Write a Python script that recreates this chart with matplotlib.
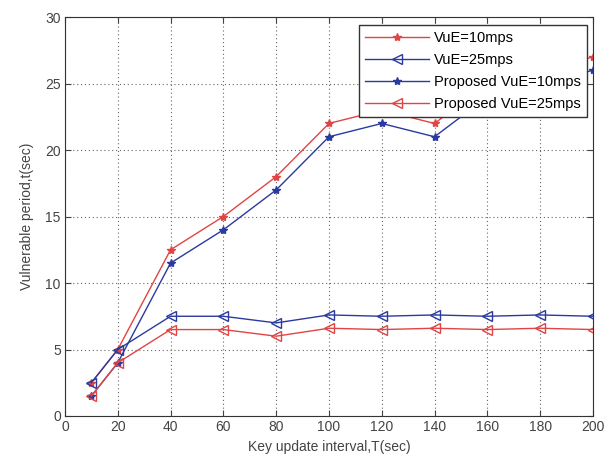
import matplotlib
matplotlib.use("Agg")
import matplotlib.pyplot as plt

plt.rcParams['font.family'] = ['Liberation Sans', 'DejaVu Sans']

x = [10, 20, 40, 60, 80, 100, 120, 140, 160, 180, 200]
vue10 = [2.5, 5, 12.5, 15, 18, 22, 23, 22, 25, 26, 27]
vue25 = [2.5, 5, 7.5, 7.5, 7, 7.6, 7.5, 7.6, 7.5, 7.6, 7.5]
prop10 = [1.5, 4, 11.5, 14, 17, 21, 22, 21, 24, 25, 26]
prop25 = [1.5, 4, 6.5, 6.5, 6, 6.6, 6.5, 6.6, 6.5, 6.6, 6.5]

labels = ['VuE=10mps', 'VuE=25mps', 'Proposed VuE=10mps', 'Proposed VuE=25mps']
red = '#e04545'
blue = '#2a3a9e'

fig = plt.figure(figsize=(6.16, 4.62), dpi=100)
ax = fig.add_axes([0.1055, 0.0996, 0.857, 0.8634])

ax.plot(x, vue10, color=red, marker='*', markersize=6, lw=1, label=labels[0])
ax.plot(x, vue25, color=blue, marker='<', markersize=6.5, mfc='none', lw=1, label=labels[1])
ax.plot(x, prop10, color=blue, marker='*', markersize=6, lw=1, label=labels[2])
ax.plot(x, prop25, color=red, marker='<', markersize=6.5, mfc='none', lw=1, label=labels[3])

ax.set_xlim(0, 200)
ax.set_ylim(0, 30)
ax.set_xticks(range(0, 201, 20))
ax.set_yticks(range(0, 31, 5))
ax.tick_params(direction='in', labelsize=10, length=4, top=True, right=True,
               colors='#444444', pad=3)
ax.grid(True, linestyle=(0, (1, 2.5)), color='#666666', linewidth=0.8)
for s in ax.spines.values():
    s.set_color('#333333')

ax.set_xlabel('Key update interval,T(sec)', fontsize=10, color='#444444', labelpad=4)
ax.set_ylabel('Vulnerable period,t(sec)', fontsize=10, color='#444444', labelpad=8)

leg = ax.legend(loc='upper right', bbox_to_anchor=(0.9886, 0.98), fontsize=10.5,
                fancybox=False, framealpha=1, edgecolor='#333333',
                handlelength=4.4, borderpad=0.4, labelspacing=0.55, handletextpad=0.35,
                borderaxespad=0)
leg.get_frame().set_linewidth(1)

fig.savefig('out.png', dpi=100)
